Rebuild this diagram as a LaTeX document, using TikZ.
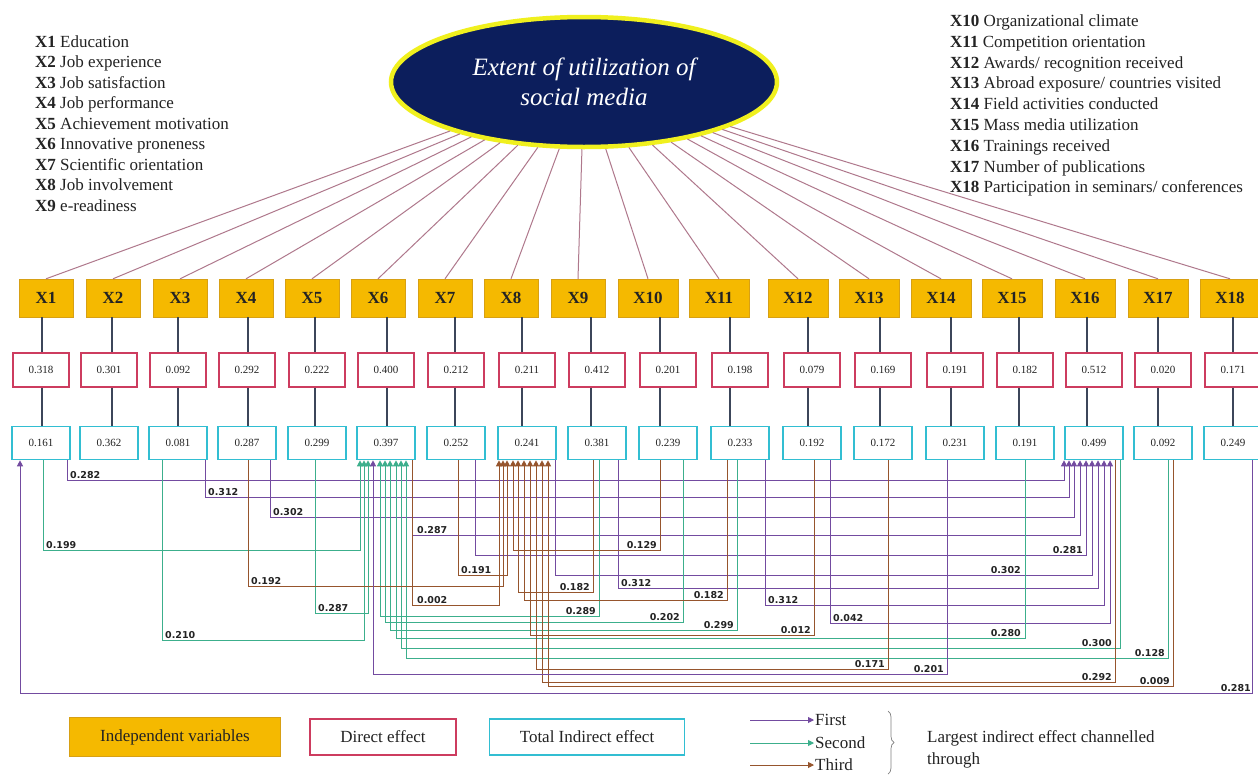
\documentclass[tikz,border=0pt]{standalone}
\usepackage{fontspec}
\setmainfont{Liberation Serif}
\newfontfamily\labfont{DejaVu Sans}
\usetikzlibrary{shapes.geometric,arrows.meta,decorations.pathreplacing}
\definecolor{navyC}{RGB}{12,30,92}
\definecolor{yelC}{RGB}{240,240,30}
\definecolor{orC}{RGB}{245,185,0}
\definecolor{orD}{RGB}{215,160,20}
\definecolor{redC}{RGB}{205,60,95}
\definecolor{tealC}{RGB}{50,190,210}
\definecolor{conC}{RGB}{60,70,90}
\definecolor{spokeC}{RGB}{175,120,140}
\definecolor{purC}{RGB}{115,75,160}
\definecolor{grnC}{RGB}{60,175,140}
\definecolor{brnC}{RGB}{150,85,45}
\definecolor{txtC}{RGB}{35,35,35}
\newcounter{lk}
\newcommand\lnk[9]{%
  \draw[#1] (#2.south -| #3,0) |- (#6,#4) -- (#5.south -| #6,0);
  \stepcounter{lk}\node[lab,anchor=#9] (lab\thelk) at (#8,#4) {#7};}
\begin{document}
\begin{tikzpicture}[x=1pt,y=-1pt,
  obox/.style={draw=orD, fill=orC, minimum height=38pt, inner sep=2pt,
    font=\bfseries\fontsize{17}{18}\selectfont, text=txtC},
  rbox/.style={draw=redC, line width=1.6pt, fill=white, minimum width=56pt,
    minimum height=34pt, font=\fontsize{11}{12}\selectfont, text=txtC},
  tbox/.style={draw=tealC, line width=1.6pt, fill=white, minimum width=58pt,
    minimum height=33pt, font=\fontsize{11}{12}\selectfont, text=txtC},
  conn/.style={draw=conC, line width=1.5pt},
  spoke/.style={draw=spokeC, line width=1pt},
  pA/.style={draw=purC, line width=0.9pt, -{Triangle[length=6pt,width=6pt]}},
  pB/.style={draw=grnC, line width=0.9pt, -{Triangle[length=6pt,width=6pt]}},
  pC/.style={draw=brnC, line width=0.9pt, -{Triangle[length=6pt,width=6pt]}},
  lab/.style={font=\labfont\bfseries\fontsize{9.5}{10}\selectfont, inner sep=1pt, text=txtC},
  lst/.style={font=\fontsize{17}{20}\selectfont, inner sep=0pt, text=txtC, anchor=base west},
  legtxt/.style={font=\fontsize{17}{19}\selectfont, inner sep=1pt, text=txtC},
  ellsty/.style={ellipse, fill=navyC, draw=yelC, line width=4.5pt,
    minimum width=386pt, minimum height=130pt, text=white, align=center,
    font=\itshape\fontsize{25}{30}\selectfont}
]
\useasboundingbox (0,0) rectangle (1258,774);
\clip (0,0) rectangle (1258,774);
\fill[white] (0,0) rectangle (1258,774);

% central ellipse
\node[ellsty] (ell) at (584,82) {Extent of utilization of\\social media};

% variable lists
\node[lst] (ll1) at (35,47) {\textbf{X1} Education};
\node[lst] (ll2) at (35,67.5) {\textbf{X2} Job experience};
\node[lst] (ll3) at (35,88) {\textbf{X3} Job satisfaction};
\node[lst] (ll4) at (35,108.5) {\textbf{X4} Job performance};
\node[lst] (ll5) at (35,129) {\textbf{X5} Achievement motivation};
\node[lst] (ll6) at (35,149.5) {\textbf{X6} Innovative proneness};
\node[lst] (ll7) at (35,170) {\textbf{X7} Scientific orientation};
\node[lst] (ll8) at (35,190.5) {\textbf{X8} Job involvement};
\node[lst] (ll9) at (35,211) {\textbf{X9} e-readiness};
\node[lst] (rl1) at (950,26) {\textbf{X10} Organizational climate};
\node[lst] (rl2) at (950,47) {\textbf{X11} Competition orientation};
\node[lst] (rl3) at (950,68) {\textbf{X12} Awards/ recognition received};
\node[lst] (rl4) at (950,88) {\textbf{X13} Abroad exposure/ countries visited};
\node[lst] (rl5) at (950,109) {\textbf{X14} Field activities conducted};
\node[lst] (rl6) at (950,130) {\textbf{X15} Mass media utilization};
\node[lst] (rl7) at (950,151) {\textbf{X16} Trainings received};
\node[lst] (rl8) at (950,172) {\textbf{X17} Number of publications};
\node[lst] (rl9) at (950,192) {\textbf{X18} Participation in seminars/ conferences};

% columns of boxes
\foreach \i/\o/\lx/\x/\d/\t in {1/46/42/41/0.318/0.161, 2/113/112/109/0.301/0.362,
  3/180/178/178/0.092/0.081, 4/246/248/247/0.292/0.287, 5/312/315/317/0.222/0.299,
  6/378/387/386/0.400/0.397, 7/445/455/456/0.212/0.252, 8/511/522/527/0.211/0.241,
  9/578/591/597/0.412/0.381, 10/648/660/668/0.201/0.239, 11/719/730/740/0.198/0.233,
  12/798/808/812/0.079/0.192, 13/869/880/883/0.169/0.172, 14/941/951/955/0.191/0.231,
  15/1012/1019/1025/0.182/0.191, 16/1085/1087/1094/0.512/0.499, 17/1158/1158/1163/0.020/0.092,
  18/1230/1233/1233/0.171/0.249}{
  \pgfmathsetmacro\w{\i>9 ? 60 : 54}
  \node[obox, minimum width=\w pt] (o\i) at (\o,298) {X\i};
  \node[rbox] (r\i) at (\x,370) {\d};
  \node[tbox] (t\i) at (\x,443) {\t};
  \draw[conn] (o\i.south -| \lx,0) -- (r\i.north -| \lx,0);
  \draw[conn] (r\i.south -| \lx,0) -- (t\i.north -| \lx,0);
  \draw[spoke] (ell) -- (o\i.north);
}

% first (purple) to X16
\lnk{pA}{t1}{67}{480}{t16}{1064}{0.282}{69}{south west}
\lnk{pA}{t3}{205}{497}{t16}{1069}{0.312}{207}{south west}
\lnk{pA}{t4}{270}{517}{t16}{1074}{0.302}{272}{south west}
\lnk{pA}{t6}{412}{535}{t16}{1080}{0.287}{416}{south west}
\lnk{pA}{t7}{475}{555}{t16}{1086}{0.281}{1084}{south east}
\lnk{pA}{t8}{555}{575}{t16}{1092}{0.302}{1022}{south east}
\lnk{pA}{t9}{618}{588}{t16}{1098}{0.312}{620}{south west}
\lnk{pA}{t11}{765}{605}{t16}{1104}{0.312}{767}{south west}
\lnk{pA}{t12}{830}{623}{t16}{1110}{0.042}{832}{south west}
% second (green) to X6
\lnk{pB}{t1}{43}{550}{t6}{360}{0.199}{45}{south west}
\lnk{pB}{t3}{162}{640}{t6}{364}{0.210}{164}{south west}
\lnk{pB}{t5}{315}{613}{t6}{368}{0.287}{317}{south west}
\lnk{pB}{t9}{599}{616}{t6}{380}{0.289}{597}{south east}
\lnk{pB}{t10}{683}{622}{t6}{385}{0.202}{681}{south east}
\lnk{pB}{t11}{737}{630}{t6}{390}{0.299}{735}{south east}
\lnk{pB}{t15}{1025}{638}{t6}{396}{0.280}{1022}{south east}
\lnk{pB}{t16}{1120}{648}{t6}{401}{0.300}{1113}{south east}
\lnk{pB}{t17}{1168}{658}{t6}{406}{0.128}{1166}{south east}
% third (brown) to X8
\lnk{pC}{t4}{248}{586}{t8}{503}{0.192}{250}{south west}
\lnk{pC}{t6}{412}{605}{t8}{499}{0.002}{416}{south west}
\lnk{pC}{t7}{458}{575}{t8}{507}{0.191}{460}{south west}
\lnk{pC}{t10}{660}{550}{t8}{513}{0.129}{658}{south east}
\lnk{pC}{t9}{593}{592}{t8}{518}{0.182}{591}{south east}
\lnk{pC}{t11}{727}{600}{t8}{524}{0.182}{725}{south east}
\lnk{pC}{t12}{814}{635}{t8}{530}{0.012}{812}{south east}
\lnk{pC}{t13}{888}{669}{t8}{536}{0.171}{886}{south east}
\lnk{pC}{t16}{1115}{682}{t8}{542}{0.292}{1113}{south east}
\lnk{pC}{t17}{1173}{686}{t8}{548}{0.009}{1171}{south east}
% other first (purple)
\lnk{pA}{t14}{947}{674}{t6}{373}{0.201}{945}{south east}
\lnk{pA}{t18}{1252}{693}{t1}{20}{0.281}{1252}{south east}

% legend
\node[obox, minimum width=211pt, minimum height=39pt, font=\fontsize{17}{19}\selectfont] (lg1) at (175,737) {Independent variables};
\node[rbox, minimum width=146pt, minimum height=36pt, font=\fontsize{17}{19}\selectfont] (lg2) at (383,737) {Direct effect};
\node[tbox, minimum width=195pt, minimum height=36pt, font=\fontsize{17}{19}\selectfont] (lg3) at (587,737) {Total Indirect effect};
\coordinate (a1) at (750,720);
\coordinate (a2) at (750,743);
\coordinate (a3) at (750,765);
\node[legtxt, anchor=west] (f1) at (814,720) {First};
\node[legtxt, anchor=west] (f2) at (814,743) {Second};
\node[legtxt, anchor=west] (f3) at (814,765) {Third};
\draw[pA] (a1) -- (f1.west);
\draw[pB] (a2) -- (f2.west);
\draw[pC] (a3) -- (f3.west);
\coordinate (b1) at (888,711);
\coordinate (b2) at (888,774);
\draw[draw=gray, line width=0.7pt, decorate, decoration={brace, amplitude=6pt}] (b1) -- (b2);
\node[legtxt, anchor=base west] (lt1) at (926,742) {Largest indirect effect channelled};
\node[legtxt, anchor=base west] (lt2) at (926,764) {through};
\end{tikzpicture}
\end{document}
